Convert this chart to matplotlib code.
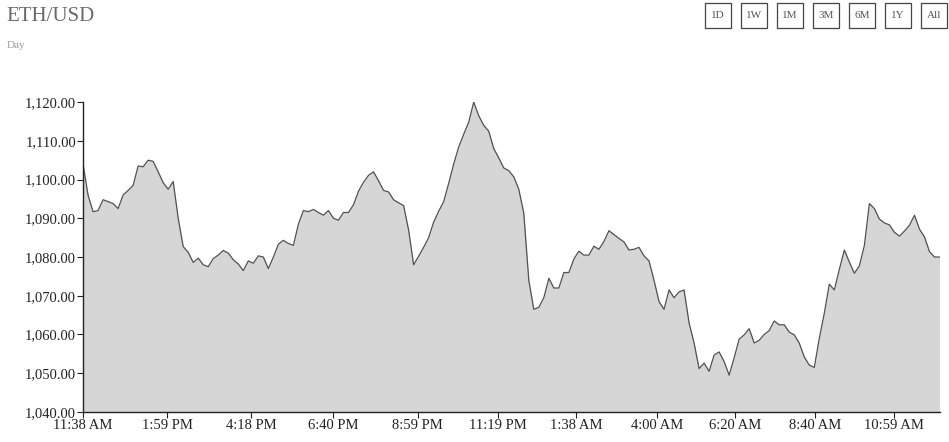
import matplotlib
matplotlib.use("Agg")
import matplotlib.pyplot as plt
from matplotlib.patches import Rectangle
import numpy as np

# ETH/USD price, one sample per step along the ordinal time axis
prices = [
    1104, 1096, 1091.7, 1092, 1094.8, 1094.3, 1093.8, 1092.5, 1096, 1097.2,
    1098.5, 1103.5, 1103.3, 1105, 1104.7, 1102, 1099.2, 1097.5, 1099.5, 1090,
    1082.7, 1081.2, 1078.6, 1079.7, 1078, 1077.5, 1079.6, 1080.5, 1081.7, 1081,
    1079.3, 1078.2, 1076.5, 1079, 1078.4, 1080.3, 1080, 1077, 1080, 1083.3,
    1084.3, 1083.5, 1083, 1088.5, 1092, 1091.7, 1092.3, 1091.5, 1090.8, 1092,
    1090, 1089.5, 1091.5, 1091.5, 1093.5, 1097, 1099.3, 1101.1, 1102, 1099.7,
    1097.2, 1096.8, 1094.8, 1094, 1093.3, 1087, 1078, 1080.2, 1082.5, 1085,
    1089, 1091.8, 1094.3, 1099, 1104, 1108.4, 1111.7, 1114.8, 1120, 1116.5,
    1114, 1112.5, 1108, 1105.6, 1103, 1102.3, 1100.7, 1097.5, 1091.3, 1074,
    1066.5, 1067, 1069.5, 1074.5, 1072, 1072, 1076, 1076, 1079.5, 1081.5,
    1080.5, 1080.5, 1082.8, 1082, 1084, 1086.8, 1085.8, 1084.8, 1083.9, 1081.8,
    1082, 1082.5, 1080.3, 1079, 1074, 1068.5, 1066.5, 1071.5, 1069.5, 1071,
    1071.5, 1063, 1057.8, 1051.2, 1052.6, 1050.5, 1054.7, 1055.5, 1053, 1049.5,
    1054, 1058.8, 1059.9, 1061.5, 1057.8, 1058.5, 1060, 1061, 1063.5, 1062.5,
    1062.5, 1060.6, 1059.9, 1057.8, 1054.2, 1052.1, 1051.5, 1059, 1065.5, 1073,
    1071.5, 1076.8, 1081.8, 1078.7, 1075.8, 1077.7, 1083, 1093.8, 1092.5, 1089.8,
    1088.8, 1088.3, 1086.4, 1085.4, 1086.7, 1088.2, 1090.8, 1087.2, 1085.2, 1081.4,
    1080, 1080,
]
time_labels = ["11:38 AM", "1:59 PM", "4:18 PM", "6:40 PM", "8:59 PM", "11:19 PM",
               "1:38 AM", "4:00 AM", "6:20 AM", "8:40 AM", "10:59 AM"]
time_label_idx = [0, 16.8, 33.6, 50, 66.8, 82.8, 98.4, 114.6, 130.2, 146.2, 162]
range_buttons = ["1D", "1W", "1M", "3M", "6M", "1Y", "All"]

plt.rcParams["font.family"] = "Liberation Serif"

fig = plt.figure(figsize=(9.49, 4.42), dpi=100)
ax = fig.add_axes([0.0875, 0.068, 0.9025, 0.701])

x = np.arange(len(prices))
ax.fill_between(x, prices, 1040, color="#d6d6d6", linewidth=0)
ax.plot(x, prices, color="#505050", linewidth=0.9)

ax.set_xlim(0, len(prices) - 1)
ax.set_ylim(1040, 1120)
yt = np.arange(1040, 1121, 10)
ax.set_yticks(yt)
ax.set_yticklabels([f"{v:,.2f}" for v in yt])
ax.set_xticks(time_label_idx)
ax.set_xticklabels(time_labels)
ax.tick_params(labelsize=10.5, colors="#222222", length=4, width=0.8, pad=1)

for side in ["top", "right"]:
    ax.spines[side].set_visible(False)
for side in ["left", "bottom"]:
    ax.spines[side].set_color("#222222")
    ax.spines[side].set_linewidth(1)

fig.text(0.007, 0.963, "ETH/USD", fontsize=15, color="#6a6a6a", va="center")
fig.text(0.007, 0.896, "Day", fontsize=8, color="#999999", va="center")

# range selector buttons
W, H = 26 / 949, 25 / 442
cx = 718 / 949
for lab in range_buttons:
    fig.patches.append(Rectangle((cx - W / 2, 0.965 - H / 2), W, H, transform=fig.transFigure,
                                 fc="white", ec="#444444", lw=0.9))
    fig.text(cx, 0.965, lab, fontsize=8, color="#555555", ha="center", va="center")
    cx += 36 / 949

fig.savefig("out.png", dpi=100)
